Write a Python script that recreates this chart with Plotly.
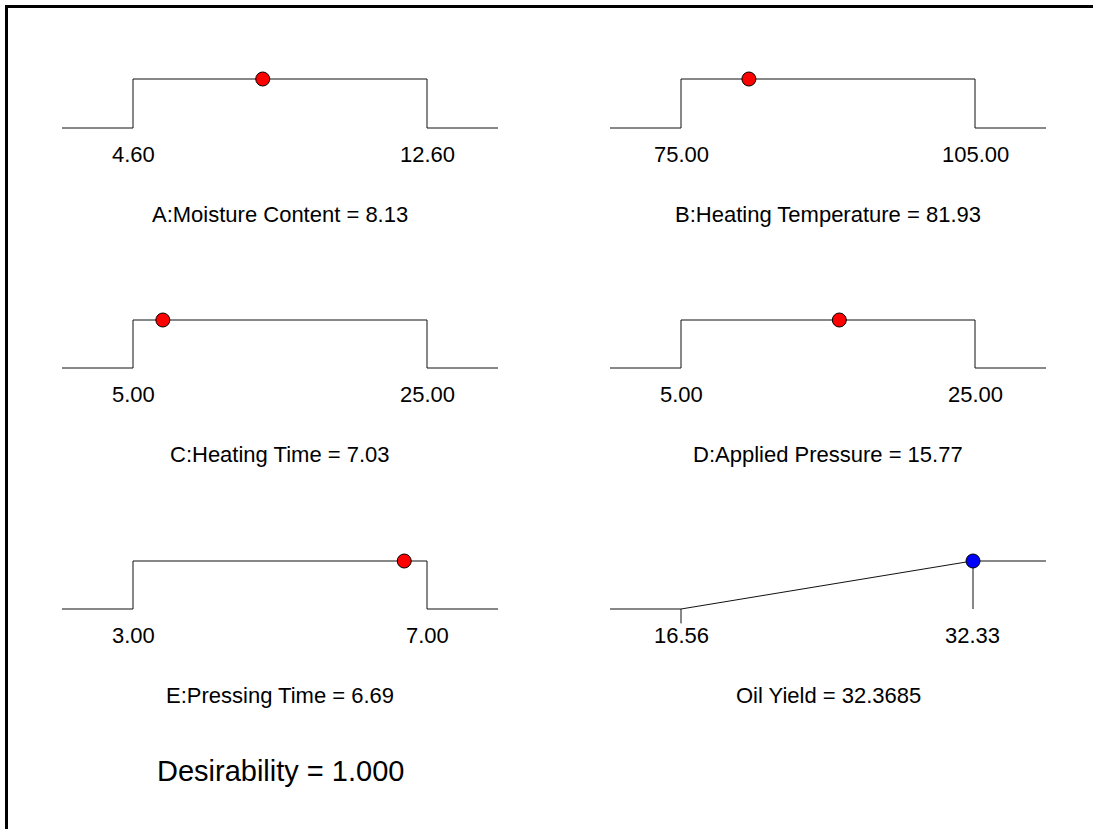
import plotly.graph_objects as go

# ---------------- data ----------------
factor_names = ["A:Moisture Content", "B:Heating Temperature", "C:Heating Time",
                "D:Applied Pressure", "E:Pressing Time"]
factor_lows = [4.60, 75.00, 5.00, 5.00, 3.00]
factor_highs = [12.60, 105.00, 25.00, 25.00, 7.00]
factor_values = [8.13, 81.93, 7.03, 15.77, 6.69]

response_name = "Oil Yield"
response_low = 16.56
response_high = 32.33
response_pred = 32.3685

desirability = 1.000

# ---------------- geometry (pixels in the screenshot) ----------------
W, H = 1093, 829
col_low_px = [133, 681]     # x pixel of low limit
col_high_px = [427, 975]    # x pixel of high limit
ext_px = 71                 # horizontal extension beyond limits
row_top_px = [79, 320, 561]   # y pixel of desirability = 1
row_bot_px = [128, 368, 609]  # y pixel of desirability = 0
label_off = 26
title_off = 86

FONT = "Liberation Sans, Arial, sans-serif"
LINE = dict(color="#111111", width=1)

fig = go.Figure()
layout = dict(width=W, height=H, margin=dict(l=0, r=0, t=0, b=0),
              paper_bgcolor="white", plot_bgcolor="white",
              showlegend=False, hovermode=False)
annotations = []


def pxx(p):
    return p / W


def pxy(p):
    return 1 - p / H


panels = []
for i in range(5):
    panels.append(dict(kind="factor", name=factor_names[i], low=factor_lows[i],
                       high=factor_highs[i], val=factor_values[i]))
panels.append(dict(kind="response", name=response_name, low=response_low,
                   high=response_high, val=response_pred))

for k, p in enumerate(panels):
    col, row = k % 2, k // 2
    ax = k + 1
    xa = "x" if ax == 1 else f"x{ax}"
    ya = "y" if ax == 1 else f"y{ax}"
    lo_px = col_low_px[col]
    if p["kind"] == "response":
        hi_ref = max(p["high"], p["val"])
        hi_px = col_high_px[col] - 2
    else:
        hi_ref = p["high"]
        hi_px = col_high_px[col]
    scale = (hi_px - lo_px) / (hi_ref - p["low"])
    left_px = lo_px - ext_px
    right_px = col_high_px[col] + ext_px
    xr0 = p["low"] - (lo_px - left_px) / scale
    xr1 = hi_ref + (right_px - hi_px) / scale
    top, bot = row_top_px[row], row_bot_px[row]
    unit = bot - top
    layout["xaxis" + ("" if ax == 1 else str(ax))] = dict(
        domain=[pxx(left_px), pxx(right_px)], range=[xr0, xr1], visible=False,
        anchor=ya, fixedrange=True)
    layout["yaxis" + ("" if ax == 1 else str(ax))] = dict(
        domain=[pxy(bot + unit), pxy(top - unit)], range=[-1, 2],
        visible=False, anchor=xa, fixedrange=True)

    if p["kind"] == "factor":
        xs = [xr0, p["low"], p["low"], p["high"], p["high"], xr1]
        ys = [0, 0, 1, 1, 0, 0]
        fig.add_trace(go.Scatter(x=xs, y=ys, mode="lines", line=LINE,
                                 xaxis=xa, yaxis=ya, cliponaxis=False))
        fig.add_trace(go.Scatter(x=[p["val"]], y=[1], mode="markers",
                                 marker=dict(size=14, color="#ff0000",
                                             line=dict(color="#000000", width=1)),
                                 xaxis=xa, yaxis=ya, cliponaxis=False))
        title = f"{p['name']} = {p['val']:.2f}"
    else:
        xs = [xr0, p["low"], p["high"], xr1]
        ys = [0, 0, 1, 1]
        fig.add_trace(go.Scatter(x=xs, y=ys, mode="lines", line=LINE,
                                 xaxis=xa, yaxis=ya, cliponaxis=False))
        # lower-limit tick
        fig.add_trace(go.Scatter(x=[p["low"], p["low"]], y=[0, -0.3], mode="lines",
                                 line=LINE, xaxis=xa, yaxis=ya, cliponaxis=False))
        # predicted value drop line
        fig.add_trace(go.Scatter(x=[p["val"], p["val"]], y=[0, 1], mode="lines",
                                 line=LINE, xaxis=xa, yaxis=ya, cliponaxis=False))
        fig.add_trace(go.Scatter(x=[p["val"]], y=[1], mode="markers",
                                 marker=dict(size=14, color="#0000ff",
                                             line=dict(color="#000000", width=1)),
                                 xaxis=xa, yaxis=ya, cliponaxis=False))
        title = f"{p['name']} = {p['val']:.4f}"

    for v in (p["low"], p["high"]):
        annotations.append(dict(x=v, xref=xa, y=pxy(bot + label_off), yref="paper",
                                text=f"{v:.2f}", showarrow=False, xanchor="center",
                                yanchor="middle", font=dict(family=FONT, size=22, color="black")))
    annotations.append(dict(x=pxx((left_px + right_px) / 2), xref="paper",
                            y=pxy(bot + title_off), yref="paper", text=title,
                            showarrow=False, xanchor="center", yanchor="middle",
                            font=dict(family=FONT, size=22, color="black")))

annotations.append(dict(x=pxx(280), xref="paper", y=pxy(771), yref="paper",
                        text=f"Desirability = {desirability:.3f}", showarrow=False,
                        xanchor="center", yanchor="middle",
                        font=dict(family=FONT, size=29, color="black")))

layout["annotations"] = annotations
border = dict(color="black", width=3)
layout["shapes"] = [
    dict(type="line", xref="paper", yref="paper",
         x0=pxx(6.5), y0=pxy(5), x1=pxx(6.5), y1=pxy(H + 10), line=border),
    dict(type="line", xref="paper", yref="paper",
         x0=pxx(5), y0=pxy(6.5), x1=pxx(W + 10), y1=pxy(6.5), line=border),
]
fig.update_layout(**layout)
fig.write_html("out.html", config={"displayModeBar": False},
               post_script="document.body.style.margin='0';"
                           "document.body.style.overflow='hidden';"
                           "document.documentElement.style.overflow='hidden';")
